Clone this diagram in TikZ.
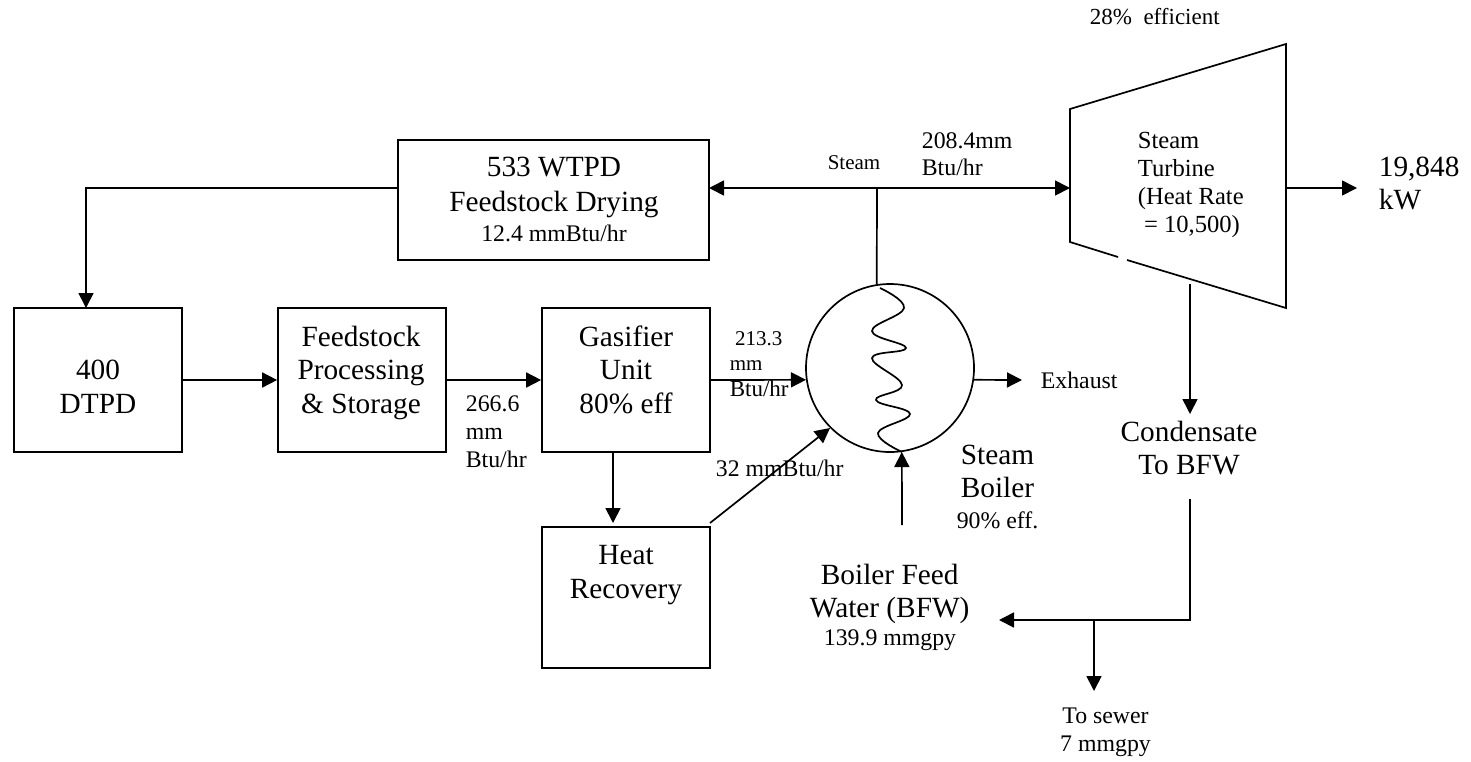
\documentclass[tikz,border=0pt]{standalone}
\usepackage{fontspec}
\setmainfont{Liberation Serif}
\usetikzlibrary{arrows.meta}
\tikzset{
  bigtxt/.style={font=\fontsize{29.3}{33.4}\selectfont, inner sep=0pt},
  smalltxt/.style={font=\fontsize{23.8}{27.6}\selectfont, inner sep=0pt},
  procbox/.style={draw, inner sep=0pt, minimum width=168pt, minimum height=144pt},
}
\begin{document}
\begin{tikzpicture}[x=1pt, y=-1pt, >={Triangle[length=15pt,width=15pt]}, line width=1.7pt]
    \useasboundingbox (0,0) rectangle (1471,761);
    % ---- the process boxes
    \node[procbox, minimum width=311pt, minimum height=120pt] (dry) at (553.5,200) {};
    \node[procbox] (dtpd) at (98,380) {};
    \node[procbox] (store) at (362,380) {};
    \node[procbox] (gasifier) at (626,380) {};
    \node[procbox, minimum height=141pt] (heat) at (626,597.5) {};
    % ---- the boiler and its coil
    \node[draw, circle, inner sep=0pt, minimum size=168pt] (boiler) at (890,368) {};
    \draw plot[smooth, tension=0.7] coordinates {(880,288) (904,308) (872,331) (906,348) (872,358)
      (902,385) (876,400) (910,414) (878,433) (902,452)};
    % ---- the turbine, with the break in its lower edge
    \draw (1127,260) -- (1286,308) -- (1286,44) -- (1070,109) -- (1070,242) -- (1118,257);
    % ---- free ends of the connectors
    \coordinate (dryout) at (398,188);
    \coordinate (dryknee) at (86,188);
    \coordinate (dtpdin) at (86,308);
    \coordinate (drysteam) at (709,188);
    \coordinate (steamjoin) at (877,188);
    \coordinate (turbin) at (1070,188);
    \coordinate (turbout) at (1286,188);
    \coordinate (power) at (1357,188);
    \coordinate (turbdown) at (1190,284);
    \coordinate (condin) at (1190,414);
    \coordinate (condout) at (1190,499);
    \coordinate (condknee) at (1190,620);
    \coordinate (bfwin) at (999,620);
    \coordinate (sewtee) at (1094,620);
    \coordinate (sewer) at (1094,691);
    \coordinate (exhaust) at (1022,380);
    \coordinate (feedup) at (902,525);
    \coordinate (heatout) at (710,523);
    \coordinate (gasout) at (613,452);
    \coordinate (heatin) at (613,523);
    % ---- connectors
    \draw[->] (dryout) -- (dryknee) -- (dtpdin);
    \draw[->] (dtpd) -- (store);
    \draw[->] (store) -- (gasifier);
    \draw[->] (gasifier.east) -- (boiler.188);
    \draw[->] (gasout) -- (heatin);
    \draw[->] (heatout) -- (boiler.225);
    \draw[<->] (drysteam) -- (turbin);
    \draw (steamjoin) -- (boiler.99);
    \draw[->] (boiler.-8) -- (exhaust);
    \draw[->] (feedup) -- (boiler.-82);
    \draw[->] (turbout) -- (power);
    \draw[->] (turbdown) -- (condin);
    \draw[->] (condout) -- (condknee) -- (bfwin);
    \draw[->] (sewtee) -- (sewer);
    % ---- labels
    \node[bigtxt, align=center] (drylbl) at (554,187.7) {533 WTPD\\[1.6pt]Feedstock Drying};
    \node[smalltxt] (dryflow) at (554,233) {12.4 mmBtu/hr};
    \node[bigtxt, align=center] (dtpdlbl) at (98,386.7) {400\\DTPD};
    \node[bigtxt, align=center] (storelbl) at (361,372.7) {Feedstock\\Processing\\\& Storage};
    \node[bigtxt, align=center] (gaslbl) at (626,369.5) {Gasifier\\Unit\\80\% eff};
    \node[bigtxt, align=center] (heatlbl) at (626,575) {Heat\\Recovery};
    \node[smalltxt, anchor=west, font=\fontsize{23}{27}\selectfont] (efflbl) at (1089,17) {28\%\ \ efficient};
    \node[smalltxt, font=\fontsize{21}{25}\selectfont] (steamlbl) at (854,163) {Steam};
    \node[smalltxt, anchor=west, align=left] (flowlbl) at (921,154) {208.4mm\\Btu/hr};
    \node[smalltxt, anchor=west, align=left, font=\fontsize{24.6}{28.3}\selectfont] (turblbl) at (1137,185)
      {Steam\\Turbine\\(Heat Rate\\\ = 10,500)};
    \node[bigtxt, anchor=west, align=left] (powerlbl) at (1378,183.5) {19,848\\kW};
    \node[smalltxt, anchor=west, align=left, font=\fontsize{21}{25.5}\selectfont] (steamflow) at (729,364)
      {\ 213.3\\mm\\{\fontsize{23}{25.5}\selectfont Btu/hr}};
    \node[smalltxt, anchor=west, align=left] (synlbl) at (465,431.7) {266.6\\mm\\Btu/hr};
    \node[smalltxt, anchor=west] (heatflow) at (715,468.5) {32 mmBtu/hr};
    \node[smalltxt, anchor=west] (exhlbl) at (1040,380) {Exhaust};
    \node[bigtxt, align=center] (boillbl) at (997.5,471.7) {Steam\\Boiler};
    \node[smalltxt] (boileff) at (997.5,520) {90\% eff.};
    \node[bigtxt, align=center] (condlbl) at (1189,448) {Condensate\\To BFW};
    \node[bigtxt, align=center] (bfwlbl) at (889.7,594) {Boiler Feed\\Water (BFW)};
    \node[smalltxt] (bfwflow) at (890,640.5) {139.9 mmgpy};
    \node[smalltxt, align=center] (sewlbl) at (1105.5,732.5) {To sewer\\7 mmgpy};
\end{tikzpicture}
\end{document}
